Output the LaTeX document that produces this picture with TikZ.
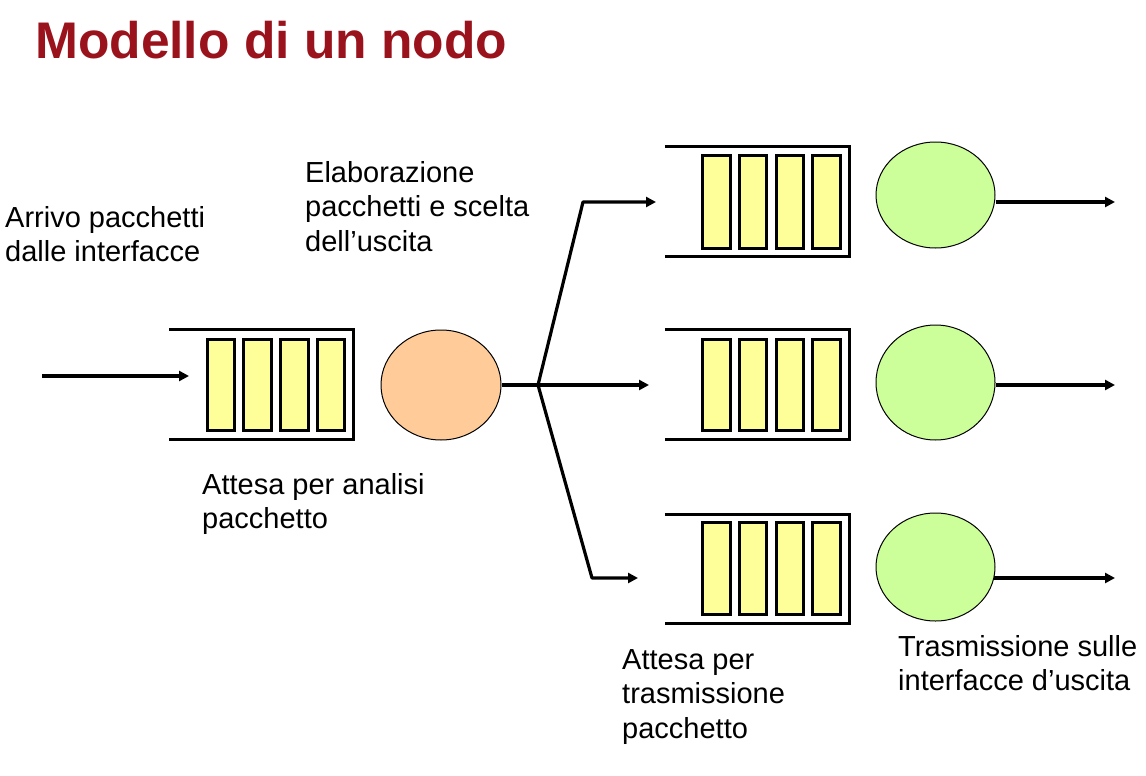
\documentclass[tikz,border=0pt]{standalone}
\usepackage{fontspec}
\setmainfont{Liberation Sans}
\usetikzlibrary{arrows.meta,shapes.geometric}
\definecolor{titlered}{RGB}{153,18,28}
\definecolor{slotyellow}{RGB}{255,255,153}
\definecolor{cpuorange}{RGB}{255,204,153}
\definecolor{txgreen}{RGB}{204,255,153}

\begin{document}
\begin{tikzpicture}[x=1pt,y=-1pt,
  qbox/.style={inner sep=0pt,minimum width=184pt,minimum height=109pt},
  slot/.style={draw,line width=3pt,fill=slotyellow,minimum width=27.5pt,minimum height=91pt,inner sep=0pt},
  frame/.style={line width=3pt},
  server/.style={ellipse,draw,line width=1pt,inner sep=0pt},
  link/.style={line width=3.2pt},
  flow/.style={line width=3.2pt,-{Triangle[length=10pt,width=10pt]}},
  label/.style={anchor=base west,inner sep=0pt,font=\fontsize{29}{34.8}\selectfont}
]
\useasboundingbox (0,0) rectangle (1146,776);

% title
\node[anchor=base west,inner sep=0pt,text=titlered,font=\fontsize{51.5}{60}\selectfont\bfseries] (title) at (35,58.3) {Modello di un nodo};

% queues: open frame plus four buffer slots
\node[qbox] (q0) at (261.5,384.5) {};
\node[qbox,minimum height=110pt] (q1) at (757,201.7) {};
\node[qbox] (q2) at (757,384.5) {};
\node[qbox] (q3) at (757,568.7) {};
\foreach \q/\h in {q0/91,q1/93,q2/91,q3/92}{
  \draw[frame] (\q.north west) -- (\q.north east) -- (\q.south east) -- (\q.south west);
  \foreach \i/\dx in {1/22.5,2/59,3/96,4/132.5}
    \node[slot,minimum height=\h pt] (\q-\i) at ([xshift=-\dx pt]\q.east) {};
}

% servers
\node[server,fill=cpuorange,minimum width=120pt,minimum height=110pt] (s0) at (441,385) {};
\node[server,fill=txgreen,minimum width=119pt,minimum height=106pt] (g1) at (935.5,195) {};
\node[server,fill=txgreen,minimum width=119pt,minimum height=115pt] (g2) at (935.5,382.5) {};
\node[server,fill=txgreen,minimum width=119pt,minimum height=108pt] (g3) at (935.5,567) {};

% routing
\coordinate (in) at (42,376);
\coordinate (inend) at (189,376);
\coordinate (br) at (538,385);
\coordinate (k1) at (583,202);
\coordinate (e1) at (656,202);
\coordinate (e2) at (649,385);
\coordinate (k3) at (592,578);
\coordinate (e3) at (638,578);
\coordinate (o1) at (1115,202);
\coordinate (o2) at (1115,385);
\coordinate (o3) at (1115,578);

\draw[flow] (in) -- (inend);
\draw[link] (s0.east) -- (br);
\draw[flow,line join=round] (br) -- (k1) -- (e1);
\draw[flow] (br) -- (e2);
\draw[flow,line join=round] (br) -- (k3) -- (e3);
\draw[flow] ([yshift=-7pt]g1.east) -- (o1);
\draw[flow] ([yshift=-2.5pt]g2.east) -- (o2);
\draw[flow] ([xshift=-1.5pt,yshift=-11pt]g3.east) -- (o3);

% labels
\node[label] (tin) at (5,227) {\begin{tabular}[t]{@{}l@{}}Arrivo pacchetti\\dalle interfacce\end{tabular}};
\node[label] (tproc) at (305,182) {\begin{tabular}[t]{@{}l@{}}Elaborazione\\pacchetti e scelta\\dell’uscita\end{tabular}};
\node[label] (twait) at (202,494) {\begin{tabular}[t]{@{}l@{}}Attesa per analisi\\pacchetto\end{tabular}};
\node[label] (tqout) at (622,669) {\begin{tabular}[t]{@{}l@{}}Attesa per\\trasmissione\\pacchetto\end{tabular}};
\node[label] (ttx) at (898,656) {\begin{tabular}[t]{@{}l@{}}Trasmissione sulle\\interfacce d’uscita\end{tabular}};
\end{tikzpicture}
\end{document}
